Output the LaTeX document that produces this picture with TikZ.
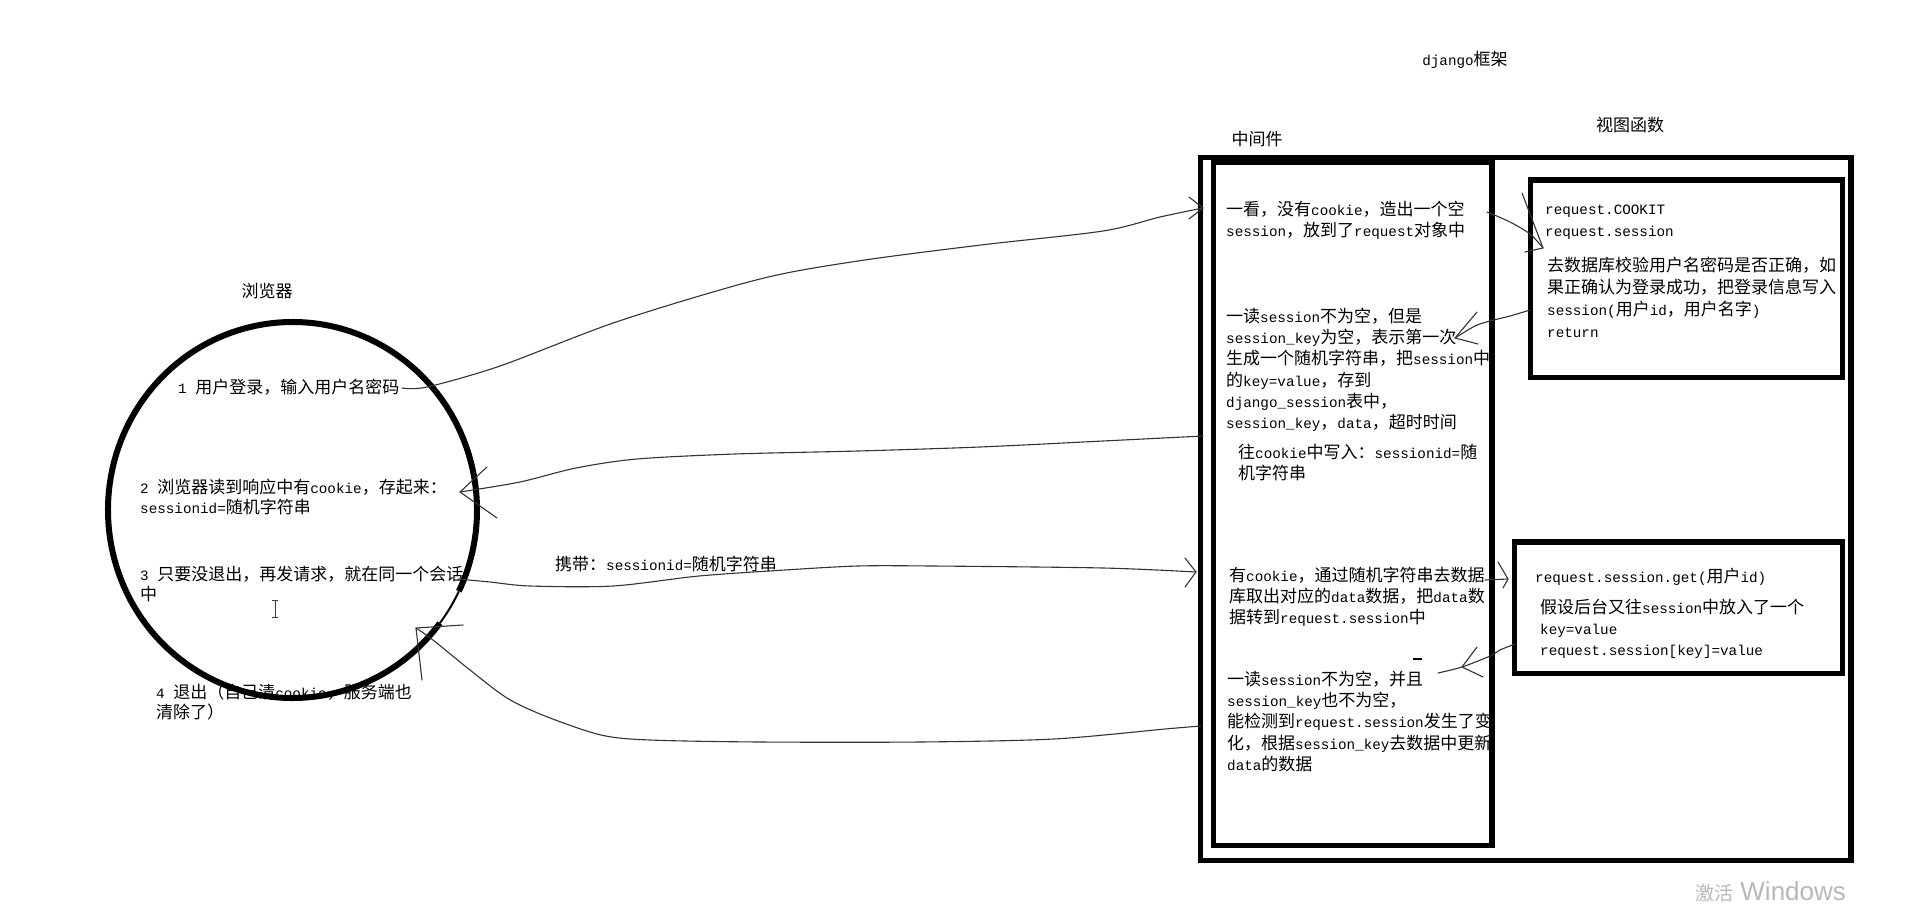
\documentclass[tikz,border=0pt]{standalone}
\usepackage{fontspec}
\setmainfont{Liberation Mono}[Scale=0.84]
\newfontfamily\latinfont{Liberation Mono}[Scale=0.84]
\newfontfamily\cjkfont{Noto Sans CJK SC}
\newfontfamily\wmfont{Liberation Sans}
\XeTeXinterchartokenstate=1
\newXeTeXintercharclass\CJKclass
\newcount\cjkcnt
\def\setcjkrange#1#2{\cjkcnt=#1\relax\loop\XeTeXcharclass\cjkcnt=\CJKclass\relax\ifnum\cjkcnt<#2\relax\advance\cjkcnt by 1\relax\repeat}
\setcjkrange{"3000}{"303F}
\setcjkrange{"4E00}{"9FFF}
\setcjkrange{"FF00}{"FFEF}
\XeTeXinterchartoks 0 \CJKclass = {\cjkfont}
\XeTeXinterchartoks 4095 \CJKclass = {\cjkfont}
\XeTeXinterchartoks \CJKclass 0 = {\latinfont}
\XeTeXinterchartoks \CJKclass 4095 = {\latinfont}
\tikzset{
  txt/.style={anchor=north west, inner sep=0pt, align=left,
    font=\fontsize{17}{#1}\selectfont\latinfont, execute at begin node=\strut},
  txt/.default=21.3,
  lbl/.style={anchor=base, inner sep=0pt, font=\fontsize{17}{20}\selectfont\latinfont},
  frame/.style={draw=black, line width=5.5pt, anchor=north west, inner sep=0pt, outer sep=0pt},
  conn/.style={line width=1.1pt, draw=black!80, line cap=round, line join=round},
}
\begin{document}
\begin{tikzpicture}[x=1pt,y=-1pt]
\fill[white] (0,0) rectangle (1922,915);
\useasboundingbox (0,0) rectangle (1922,915);

% labels
\node[lbl] (title) at (1465,66) {django框架};
\node[lbl] (viewlbl) at (1630,131.5) {视图函数};
\node[lbl] (mwlbl) at (1257,145.5) {中间件};
\node[lbl] (brlbl) at (267,297.5) {浏览器};

% middleware texts
\node[txt] (m1) at (1226,200.6) {一看，没有cookie，造出一个空\\session，放到了request对象中};
\node[txt] (m2) at (1226,307.6) {一读session不为空，但是\\session\_key为空，表示第一次\\生成一个随机字符串，把session中\\的key=value，存到\\django\_session表中，\\session\_key，data，超时时间};
\node[txt] (m2b) at (1238,443.6) {往cookie中写入：sessionid=随\\机字符串};
\node[txt] (m3) at (1229,566.6) {有cookie，通过随机字符串去数据\\库取出对应的data数据，把data数\\据转到request.session中};
\node[txt] (m4) at (1227,670.6) {一读session不为空，并且\\session\_key也不为空，\\能检测到request.session发生了变\\化，根据session\_key去数据中更新\\data的数据};

% view texts
\node[txt=22] (v1a) at (1545,204.6) {request.COOKIT\\request.session};
\node[txt=22] (v1b) at (1547,257) {去数据库校验用户名密码是否正确，如\\果正确认为登录成功，把登录信息写入\\session(用户id，用户名字)\\return};
\node[txt=22] (v2a) at (1535,567) {request.session.get(用户id)};
\node[txt=21] (v2b) at (1540,599) {假设后台又往session中放入了一个\\key=value\\request.session[key]=value};

% browser texts
\node[txt=20] (b1) at (178,378.5) {1 用户登录，输入用户名密码};
\node[txt=20] (b2) at (140,478.5) {2 浏览器读到响应中有cookie，存起来：\\sessionid=随机字符串};
\node[txt=20] (b3) at (140,566) {3 只要没退出，再发请求，就在同一个会话\\中};
\node[txt=20] (b4) at (156,683.5) {4 退出（自己清cookie，服务端也\\清除了）};
\node[lbl, anchor=base west] (carry) at (555,570) {携带：sessionid=随机字符串};

% frames
\node[frame, minimum width=650.5pt, minimum height=703pt] (outer) at (1200.5,157.5) {};
\node[frame, minimum width=278.5pt, minimum height=683pt] (inner) at (1213.5,162.5) {};
\node[frame, minimum width=312pt, minimum height=197.5pt] (view1) at (1530.5,180) {};
\node[frame, minimum width=328pt, minimum height=131.5pt] (view2) at (1514.5,542) {};

% browser circle
\coordinate (bc) at (292.5,510);
\draw[line width=6pt] ([shift={(37:184.5 and 188)}]bc) arc[start angle=37, end angle=385.6, x radius=184.5, y radius=188];
\draw[line width=2pt] ([shift={(25.6:184.5 and 188)}]bc) arc[start angle=25.6, end angle=37, x radius=184.5, y radius=188];

% cursor
\draw[black!75, line width=1pt] (275,600) -- (275,617) (272,600) -- (278,600) (272,617) -- (278,617);

% connectors
\coordinate (a1s) at (402,388);
\coordinate (a1t) at (1203,208);
\draw[conn] plot[smooth, tension=0.5] coordinates {(a1s) (427,387) (500,366) (619,321) (760,279) (858,261) (981,245) (1103,231) (1160,217) (a1t)};
\draw[conn] (1189,197) -- (a1t) -- (1189,219);

\coordinate (a2s) at (1203,436);
\coordinate (a2t) at (460,492);
\draw[conn] plot[smooth, tension=0.5] coordinates {(a2s) (1103,441) (980,447) (858,451) (735,454) (637,459) (576,468) (520,482) (a2t)};
\draw[conn] (487,467) -- (a2t) -- (497,518);

\coordinate (a3s) at (458,579);
\coordinate (a3t) at (1196,572);
\draw[conn] plot[smooth, tension=0.5] coordinates {(a3s) (490,582) (530,586) (613,586) (699,576) (785,570) (858,566) (932,566) (1103,568) (a3t)};
\draw[conn] (1185,558) -- (a3t) -- (1185,587);

\coordinate (a4s) at (1201,726);
\coordinate (a4t) at (416,628);
\draw[conn] plot[smooth, tension=0.5] coordinates {(a4s) (1165,729) (1054,739) (920,742) (760,742) (650,740) (601,735) (545,716) (507,698) (470,670) (433,640) (a4t)};
\draw[conn] (463,625) -- (a4t) -- (422,680);

\coordinate (a5s) at (1487,212);
\coordinate (a5t) at (1543,248);
\draw[conn] plot[smooth, tension=0.5] coordinates {(a5s) (1510,222) (1530,234) (a5t)};
\draw[conn] (1522,193) -- (a5t) -- (1525,252);

\coordinate (a6s) at (1530,310);
\coordinate (a6t) at (1455,338);
\draw[conn] plot[smooth, tension=0.5] coordinates {(a6s) (1510,316) (1490,321) (1475,326) (a6t)};
\draw[conn] (1477,312) -- (a6t) -- (1478,344);

\coordinate (a7s) at (1485,580);
\coordinate (a7t) at (1508,579);
\draw[conn] (a7s) -- (a7t);
\draw[conn] (1498,562) -- (a7t) -- (1503,588);

\coordinate (a8s) at (1515,644);
\coordinate (a8e) at (1438,673);
\coordinate (a8t) at (1462,667);
\draw[conn] plot[smooth, tension=0.5] coordinates {(a8s) (1500,650) (1490,656) (a8t) (a8e)};
\draw[conn] (1477,647) -- (a8t) -- (1483,677);

% stray mark
\draw[line width=1.5pt] (1413,659) -- (1422,659);

% watermark
\node[anchor=base west, inner sep=0pt, text=black!28, font=\fontsize{19}{22}\selectfont\latinfont] (wm) at (1695,900) {激活\wmfont\fontsize{26}{30}\selectfont\ Windows};
\end{tikzpicture}
\end{document}
